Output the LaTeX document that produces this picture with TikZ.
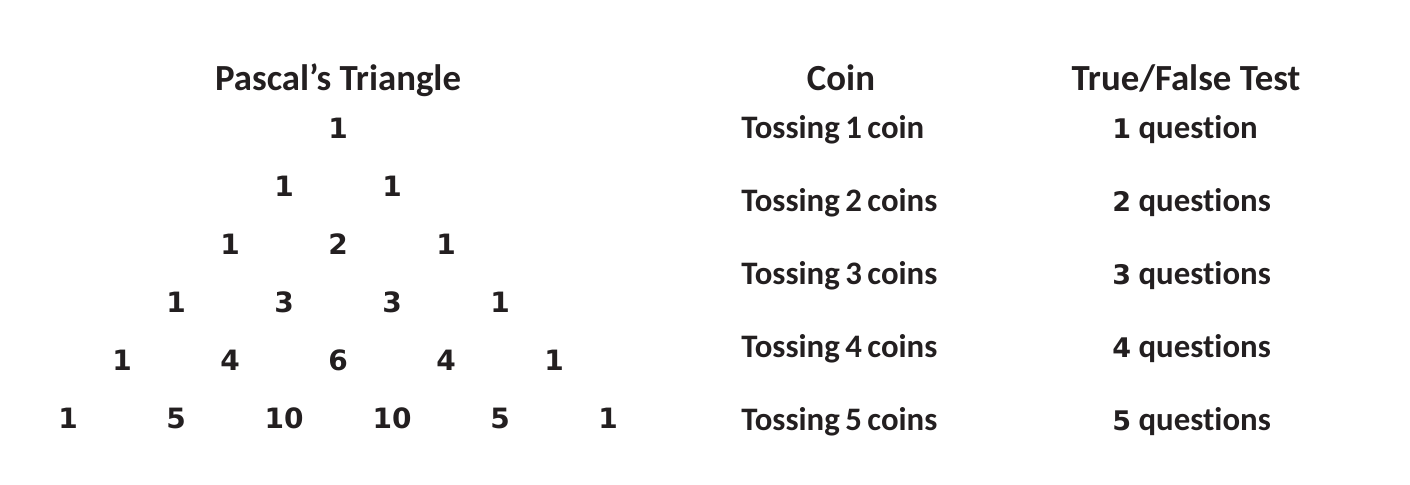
\documentclass[tikz,border=0pt]{standalone}
\usepackage{fontspec}
\setmainfont{Carlito}[Ligatures={NoCommon}]
\newfontfamily\digitfont{DejaVu Sans Bold}
\usetikzlibrary{positioning}
\definecolor{ink}{HTML}{231F20}

\begin{document}
\begin{tikzpicture}[x=0.5pt,y=-0.5pt,text=ink,
    heading/.style={font=\bfseries\fontsize{18.4}{20}\selectfont, anchor=base},
    entry/.style={font=\digitfont\fontsize{14}{16}\selectfont, anchor=base},
    item/.style={font=\bfseries\fontsize{16.4}{18}\selectfont, anchor=base west, inner sep=0pt}]
    \useasboundingbox (0,0) rectangle (1410,484);

    % Left side: Pascal's triangle
    \node[heading] (ptitle) at (338,90) {Pascal's Triangle};
    \foreach \vals [count=\r from 0] in {{1},{1,1},{1,2,1},{1,3,3,1},{1,4,6,4,1},{1,5,10,10,5,1}}
      \foreach \v [count=\k from 0] in \vals
        \node[entry] (p\r-\k) at ({338+108*\k-54*\r},{138+58*\r}) {\v};

    % Middle: coins
    \node[heading] (ctitle) at (841,90) {Coin};
    \foreach \n/\s in {1/coin,2/coins,3/coins,4/coins,5/coins}
      \node[item] (c\n) at (741,{65+73*\n}) {Tossing\,\n\,\s};

    % Right side: true/false test
    \node[heading] (ttitle) at (1186,90) {True/False Test};
    \foreach \n/\s in {1/question,2/questions,3/questions,4/questions,5/questions}
      \node[item] (q\n) at (1112,{65+73*\n}) {{\digitfont\fontsize{13.5}{15}\selectfont\n}\ \s};
\end{tikzpicture}
\end{document}
